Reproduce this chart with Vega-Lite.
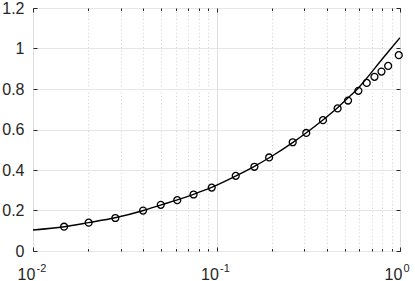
{
  "$schema": "https://vega.github.io/schema/vega-lite/v6.json",
  "width": 367,
  "height": 243,
  "autosize": {"type": "none"},
  "padding": {"left": 33, "top": 8, "right": 15, "bottom": 30},
  "background": "white",
  "config": {
    "view": {"stroke": "#262626", "strokeWidth": 1},
    "font": "Liberation Sans",
    "axis": {"labelFont": "Liberation Sans", "labelColor": "#262626", "tickColor": "#262626", "domain": false, "title": null, "labelFlush": false, "labelOverlap": false, "labelBound": false}
  },
  "datasets": {
    "pts": [
      {"x": 0.01477, "y": 0.120}, {"x": 0.0201, "y": 0.140}, {"x": 0.0281, "y": 0.163},
      {"x": 0.0398, "y": 0.1995}, {"x": 0.0497, "y": 0.228}, {"x": 0.0611, "y": 0.251},
      {"x": 0.0750, "y": 0.279}, {"x": 0.0942, "y": 0.313}, {"x": 0.1273, "y": 0.371},
      {"x": 0.1609, "y": 0.416}, {"x": 0.1936, "y": 0.462}, {"x": 0.2602, "y": 0.537},
      {"x": 0.3084, "y": 0.583}, {"x": 0.3804, "y": 0.646}, {"x": 0.4571, "y": 0.704},
      {"x": 0.5210, "y": 0.743}, {"x": 0.5932, "y": 0.791}, {"x": 0.6587, "y": 0.830},
      {"x": 0.7258, "y": 0.860}, {"x": 0.7925, "y": 0.886}, {"x": 0.8619, "y": 0.914},
      {"x": 0.9849, "y": 0.967}
    ],
    "curve": [
      {"x": 0.01, "y": 0.104}, {"x": 0.0148, "y": 0.12}, {"x": 0.02, "y": 0.14},
      {"x": 0.028, "y": 0.164}, {"x": 0.04, "y": 0.2}, {"x": 0.05, "y": 0.228},
      {"x": 0.06, "y": 0.25}, {"x": 0.075, "y": 0.28}, {"x": 0.094, "y": 0.314},
      {"x": 0.127, "y": 0.37}, {"x": 0.16, "y": 0.417}, {"x": 0.2, "y": 0.468},
      {"x": 0.26, "y": 0.535}, {"x": 0.31, "y": 0.585}, {"x": 0.38, "y": 0.647},
      {"x": 0.46, "y": 0.71}, {"x": 0.52, "y": 0.755}, {"x": 0.6, "y": 0.81},
      {"x": 0.65, "y": 0.847}, {"x": 0.8, "y": 0.948}, {"x": 0.9, "y": 1.004},
      {"x": 1.0, "y": 1.053}
    ]
  },
  "resolve": {"axis": {"x": "independent", "y": "independent"}},
  "layer": [
    {
      "data": {"name": "curve"},
      "mark": {"type": "line", "color": "black", "strokeWidth": 1.4, "interpolate": "monotone", "clip": true},
      "encoding": {
        "x": {"field": "x", "type": "quantitative", "scale": {"type": "log", "domain": [0.01, 1], "nice": false},
          "axis": {"orient": "bottom", "values": [0.01,0.02,0.03,0.04,0.05,0.06,0.07,0.08,0.09,0.1,0.2,0.3,0.4,0.5,0.6,0.7,0.8,0.9,1],
            "labels": false, "grid": true, "ticks": true,
            "tickSize": {"condition": {"test": "datum.value==0.01 || datum.value==0.1 || datum.value==1", "value": -4}, "value": -2.5},
            "gridDash": {"condition": {"test": "datum.value==0.01 || datum.value==0.1 || datum.value==1", "value": []}, "value": [1, 2.5]},
            "gridColor": {"condition": {"test": "datum.value==0.01 || datum.value==0.1 || datum.value==1", "value": "#dedede"}, "value": "#d2d2d2"}}},
        "y": {"field": "y", "type": "quantitative", "scale": {"domain": [0, 1.2], "nice": false, "zero": false},
          "axis": {"orient": "left", "values": [0,0.2,0.4,0.6,0.8,1,1.2], "labels": false, "grid": true, "gridColor": "#e6e6e6", "ticks": true, "tickSize": -4}}
      }
    },
    {
      "data": {"name": "pts"},
      "mark": {"type": "point", "shape": "circle", "filled": false, "color": "black", "strokeWidth": 1.3, "size": 48, "opacity": 1},
      "encoding": {
        "x": {"field": "x", "type": "quantitative", "scale": {"type": "log", "domain": [0.01, 1], "nice": false},
          "axis": {"orient": "bottom", "values": [0.01, 0.1, 1], "grid": false, "ticks": false, "tickSize": 0,
            "labelExpr": "'10'", "labelFontSize": 16, "labelAlign": "center", "labelOffset": -7, "labelBaseline": "alphabetic", "labelPadding": 28}},
        "y": {"field": "y", "type": "quantitative", "scale": {"domain": [0, 1.2], "nice": false, "zero": false},
          "axis": {"orient": "left", "values": [0,0.2,0.4,0.6,0.8,1,1.2], "grid": false, "ticks": false, "tickSize": 0,
            "labelExpr": "datum.value == 0 ? '0' : datum.value == 1 ? '1' : format(datum.value, '.1f')",
            "labelFontSize": 16, "labelPadding": 9, "labelAlign": "right", "labelBaseline": "middle"}}
      }
    },
    {
      "data": {"values": []},
      "mark": {"type": "point"},
      "encoding": {
        "x": {"field": "x", "type": "quantitative", "scale": {"type": "log", "domain": [0.01, 1], "nice": false},
          "axis": {"orient": "bottom", "values": [0.01, 0.1, 1], "grid": false, "ticks": false, "tickSize": 0,
            "labelExpr": "datum.value < 0.05 ? '-2' : datum.value < 0.5 ? '-1' : '0'", "labelFontSize": 11, "labelAlign": "left", "labelOffset": 3, "labelBaseline": "alphabetic", "labelPadding": 20.5}},
        "y": {"field": "y", "type": "quantitative", "scale": {"domain": [0, 1.2], "nice": false, "zero": false},
          "axis": {"orient": "right", "values": [0,0.2,0.4,0.6,0.8,1,1.2], "grid": false, "labels": false, "ticks": true, "tickSize": -4}}
      }
    },
    {
      "data": {"values": []},
      "mark": {"type": "point"},
      "encoding": {
        "x": {"field": "x", "type": "quantitative", "scale": {"type": "log", "domain": [0.01, 1], "nice": false},
          "axis": {"orient": "top", "values": [0.01,0.02,0.03,0.04,0.05,0.06,0.07,0.08,0.09,0.1,0.2,0.3,0.4,0.5,0.6,0.7,0.8,0.9,1],
            "labels": false, "grid": false, "ticks": true,
            "tickSize": {"condition": {"test": "datum.value==0.01 || datum.value==0.1 || datum.value==1", "value": -4}, "value": -2.5}}},
        "y": {"field": "y", "type": "quantitative", "scale": {"domain": [0, 1.2], "nice": false, "zero": false}, "axis": null}
      }
    }
  ]
}
